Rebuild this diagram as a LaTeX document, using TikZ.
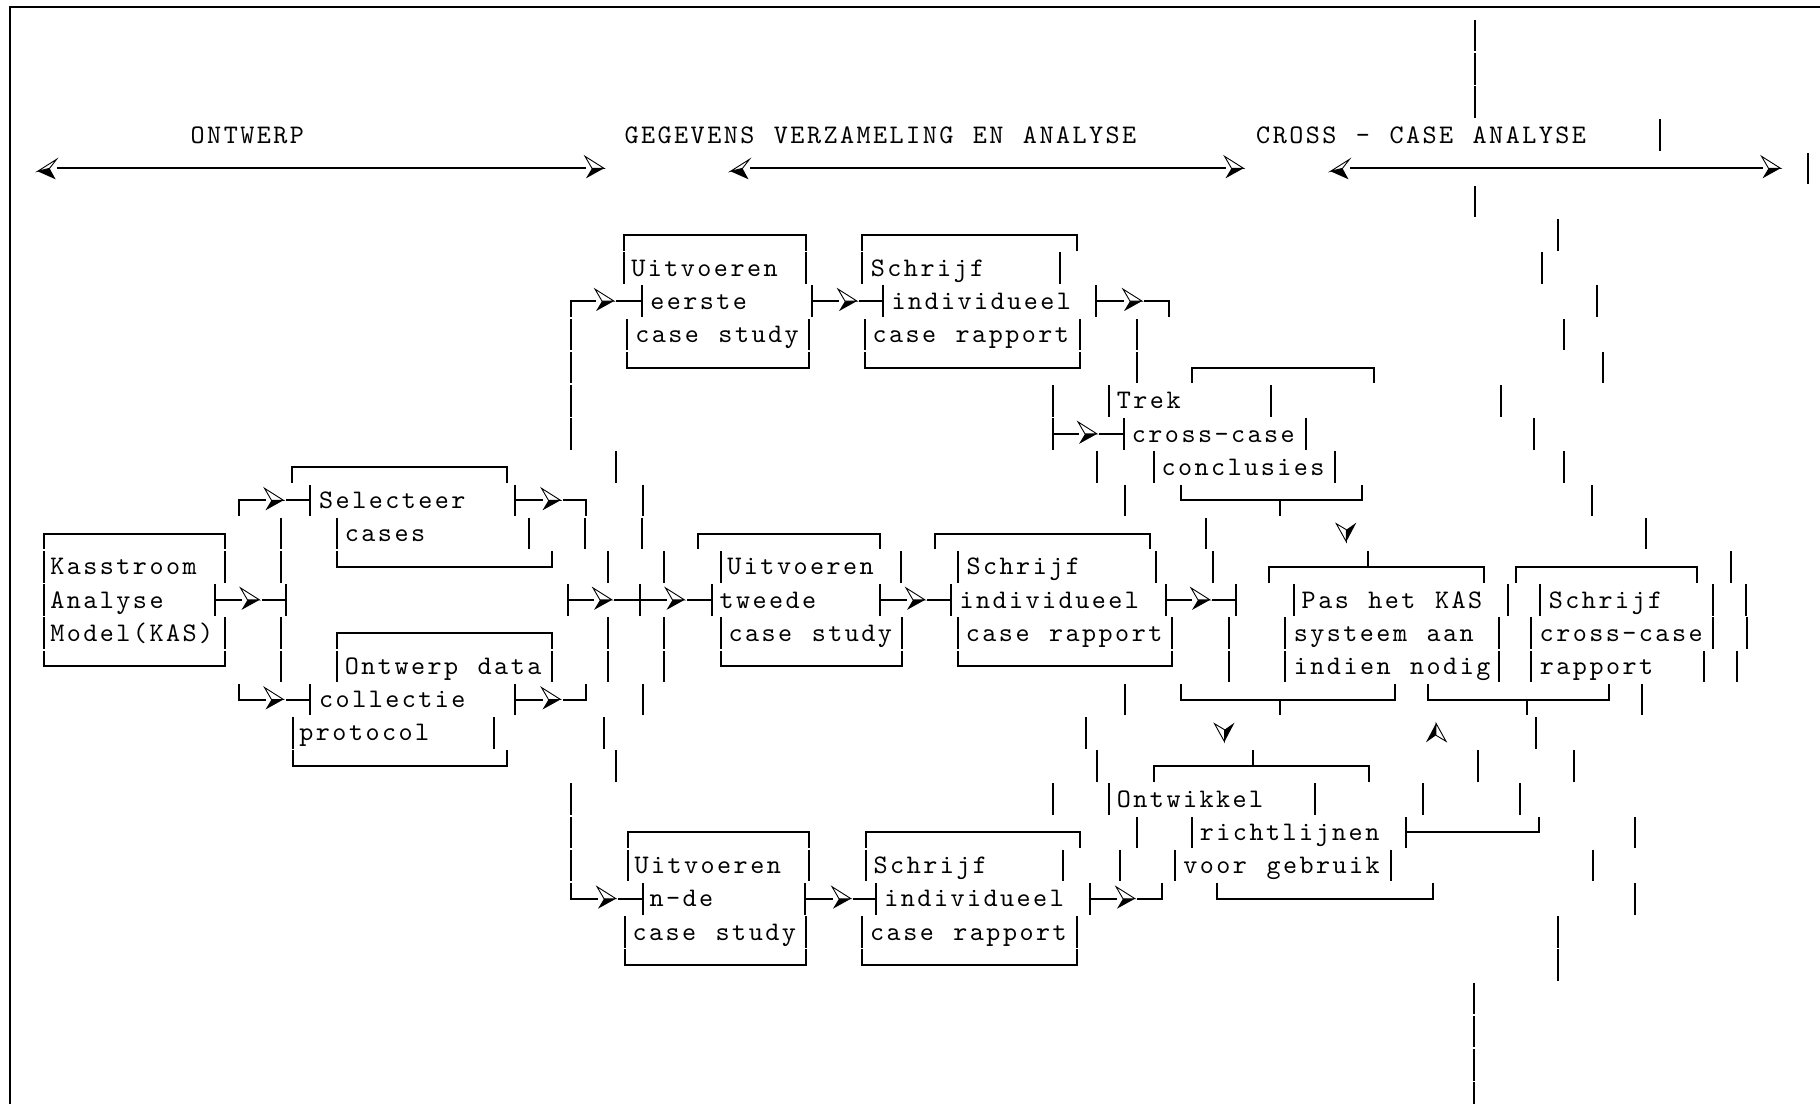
\documentclass[tikz,border=0pt]{standalone}
\usepackage{fontspec}
\newfontfamily\ascfont{lmmono10-regular.otf}[LetterSpace=9.2,WordSpace=1.18]
% one box-drawing cell: vertical bar, half bars, horizontal run
\newcommand\ascV[2]{\draw[ln] (#1,{ry(#2)-14.8}) -- (#1,{ry(#2)+14.8});}
\newcommand\ascD[2]{\draw[ln] (#1,{ry(#2)}) -- (#1,{ry(#2)+14.8});}
\newcommand\ascU[2]{\draw[ln] (#1,{ry(#2)-14.8}) -- (#1,{ry(#2)});}
\newcommand\ascH[3]{\draw[ln] (#1,{ry(#3)}) -- (#2,{ry(#3)});}
% three-d arrowheads: light upper facet, dark lower facet
\newcommand\ascR[2]{%
  \fill ({#1},{ry(#2)}) -- ({#1-12},{ry(#2)}) -- ({#1-18},{ry(#2)+10}) -- cycle;
  \draw[facet] ({#1},{ry(#2)}) -- ({#1-19},{ry(#2)-12}) -- ({#1-12},{ry(#2)}) -- cycle;}
\newcommand\ascL[2]{%
  \fill ({#1},{ry(#2)+3}) -- ({#1+12},{ry(#2)}) -- ({#1+18},{ry(#2)+11}) -- cycle;
  \draw[facet] ({#1},{ry(#2)+3}) -- ({#1+19},{ry(#2)-9}) -- ({#1+12},{ry(#2)}) -- cycle;}
\newcommand\ascDn[2]{%
  \fill (#1,#2) -- (#1,{#2-12}) -- ({#1+10},{#2-19}) -- cycle;
  \draw[facet] (#1,#2) -- ({#1-10},{#2-18}) -- (#1,{#2-12}) -- cycle;}
\newcommand\ascUp[2]{%
  \fill (#1,#2) -- (#1,{#2+12}) -- ({#1-10},{#2+19}) -- cycle;
  \draw[facet] (#1,#2) -- ({#1+10},{#2+18}) -- (#1,{#2+12}) -- cycle;}
% a run "from bar, arrowhead, on to bar": start x, arrow tip x, end x, row
\newcommand\ascArr[4]{\ascH{#1}{#2-19}{#4}\ascH{#2+3}{#3}{#4}\ascR{#2}{#4}}
% text on a row
\newcommand\ascT[4]{\node[txt] (#1) at ({#2-1.5},{ry(#3)+8.2}) {#4};}

\begin{document}
\begin{tikzpicture}[x=0.5pt,y=-0.5pt,
  declare function={ry(\k)=168.3+33.2*(\k);},
  ln/.style={line width=1pt,line cap=rect},
  facet/.style={line width=0.45pt,fill=white,line join=miter},
  txt/.style={anchor=base west,inner sep=0pt,font=\ascfont\fontsize{13.4pt}{16pt}\selectfont}]
\useasboundingbox (0,0) rectangle (1820,1103);

% frame
\draw[ln] (10,1110) -- (10,6.7) -- (1830,6.7);

% phase headings
\ascT{t1}{191.8}{-1}{ONTWERP}
\ascT{t2}{625.7}{-1}{GEGEVENS VERZAMELING EN ANALYSE}
\ascT{t3}{1257.3}{-1}{CROSS - CASE ANALYSE}
\ascH{57.5}{585}{0} \ascL{37.6}{0} \ascR{604}{0}
\ascH{750.5}{1224.5}{0} \ascL{730.5}{0} \ascR{1243.5}{0}
\ascH{1350.5}{1761.5}{0} \ascL{1330.5}{0} \ascR{1780.5}{0}
\ascV{1659.9}{-1} \ascV{1808}{0}
\foreach \k in {-4,-3,-2,1} {\ascV{1474.8}{\k}}

% row 2
\ascH{623.7}{805.6}{2} \ascD{623.7}{2} \ascD{805.6}{2}
\ascH{861.8}{1076.5}{2} \ascD{861.8}{2} \ascD{1076.5}{2}
\ascV{1557.9}{2}
% row 3
\ascV{623.7}{3} \ascT{t4}{632.4}{3}{Uitvoeren} \ascV{805.6}{3}
\ascV{861.8}{3} \ascT{t5}{872}{3}{Schrijf} \ascV{1059.9}{3}
\ascV{1542}{3}
% row 4
\ascD{571.4}{4} \ascArr{571.4}{614}{641.5}{4} \ascV{641.5}{4}
\ascT{t6}{651.4}{4}{eerste}
\ascV{811.5}{4} \ascArr{811.5}{857}{882.7}{4} \ascV{882.7}{4}
\ascT{t7}{892.6}{4}{individueel}
\ascV{1096.2}{4} \ascArr{1096.2}{1142}{1168.6}{4} \ascD{1168.6}{4}
\ascV{1596.6}{4}
% row 5
\ascV{626.9}{5} \ascT{t8}{636.4}{5}{case study} \ascV{808.8}{5}
\ascV{865}{5} \ascT{t9}{873.6}{5}{case rapport} \ascV{1079.6}{5}
\ascV{1136.6}{5} \ascV{571.4}{5} \ascV{1563.8}{5}
% row 6
\ascU{626.9}{6} \ascH{626.9}{808.8}{6} \ascU{808.8}{6}
\ascU{865}{6} \ascH{865}{1079.6}{6} \ascU{1079.6}{6}
\ascV{1136.6}{6} \ascV{571.4}{6}
\ascH{1192}{1374}{6} \ascD{1192}{6} \ascD{1374}{6}
\ascV{1602.5}{6}
% row 7
\ascV{571.4}{7} \ascV{1052.7}{7} \ascV{1108.9}{7} \ascT{t10}{1118}{7}{Trek}
\ascV{1271}{7} \ascV{1500.5}{7}
% row 8
\ascV{571.4}{8}
\ascV{1052.7}{8} \ascArr{1052.7}{1097}{1124}{8} \ascV{1124}{8}
\ascT{t11}{1133}{8}{cross-case} \ascV{1306}{8} \ascV{1534}{8}
% row 9
\ascV{615.6}{9} \ascV{1097.4}{9} \ascV{1153.6}{9}
\ascT{t12}{1162.7}{9}{conclusies} \ascV{1335}{9} \ascV{1563.8}{9}
\ascH{291.8}{507}{9} \ascD{291.8}{9} \ascD{507}{9}
% row 10
\ascD{239.2}{10} \ascArr{239.2}{283.5}{310.4}{10} \ascV{310.4}{10}
\ascT{t13}{320.3}{10}{Selecteer}
\ascV{515.2}{10} \ascArr{515.2}{560.5}{586.4}{10} \ascD{586.4}{10}
\ascV{642.7}{10} \ascV{1124.7}{10}
\ascU{1181.3}{10} \ascH{1181.3}{1362}{10} \ascU{1362}{10} \ascD{1280}{10}
\ascV{1591.5}{10}
% row 11
\ascH{43.5}{224.6}{11} \ascD{43.5}{11} \ascD{224.6}{11}
\ascV{280.7}{11} \ascV{337.3}{11} \ascT{t14}{346}{11}{cases} \ascV{529}{11}
\ascV{585.2}{11} \ascV{641.5}{11}
\ascH{698}{879.6}{11} \ascD{698}{11} \ascD{879.6}{11}
\ascH{935.3}{1149.6}{11} \ascD{935.3}{11} \ascD{1149.6}{11}
\ascV{1206}{11} \ascV{1646}{11}
\ascDn{1346.3}{541.7}
% row 12
\ascV{43.5}{12} \ascT{t15}{51.4}{12}{Kasstroom} \ascV{224.6}{12}
\ascV{280.7}{12}
\ascU{337.3}{12} \ascH{337.3}{551.6}{12} \ascU{551.6}{12}
\ascV{607.7}{12} \ascV{664}{12}
\ascV{720.6}{12} \ascT{t16}{728.5}{12}{Uitvoeren} \ascV{901.3}{12}
\ascV{957.9}{12} \ascT{t17}{967.7}{12}{Schrijf} \ascV{1156.3}{12}
\ascV{1212.9}{12}
\ascH{1269}{1483.5}{12} \ascD{1269}{12} \ascD{1483.5}{12} \ascU{1368}{12}
\ascH{1516}{1697.4}{12} \ascD{1516}{12} \ascD{1697.4}{12}
\ascV{1730.6}{12}
% row 13
\ascV{43.5}{13} \ascT{t18}{51.4}{13}{Analyse}
\ascV{214.7}{13} \ascArr{214.7}{259.5}{285.5}{13} \ascV{285.5}{13}
\ascV{568.2}{13} \ascArr{568.2}{612}{664.8}{13} \ascV{639.5}{13}
\ascArr{664.8}{684.5}{711.5}{13} \ascV{711.5}{13}
\ascT{t19}{720.6}{13}{tweede}
\ascV{880}{13} \ascArr{880}{925}{951}{13} \ascV{951}{13}
\ascT{t20}{960.6}{13}{individueel}
\ascV{1166.2}{13} \ascArr{1166.2}{1210}{1236}{13} \ascV{1236}{13}
\ascV{1293.7}{13} \ascT{t21}{1302.8}{13}{Pas het KAS} \ascV{1507.6}{13}
\ascV{1540}{13} \ascT{t22}{1550}{13}{Schrijf}
\ascV{1712.8}{13} \ascV{1745.7}{13}
% row 14
\ascV{43.5}{14} \ascT{t23}{51.4}{14}{Model(KAS)} \ascV{224.6}{14}
\ascV{280.7}{14}
\ascH{337.3}{551.6}{14} \ascD{337.3}{14} \ascD{551.6}{14}
\ascV{608}{14} \ascV{664}{14}
\ascV{720.6}{14} \ascT{t24}{729.7}{14}{case study} \ascV{901.7}{14}
\ascV{957.9}{14} \ascT{t25}{967}{14}{case rapport} \ascV{1172}{14}
\ascV{1228.5}{14}
\ascV{1285}{14} \ascT{t26}{1294.9}{14}{systeem aan} \ascV{1499.3}{14}
\ascV{1531.4}{14} \ascT{t27}{1540.8}{14}{cross-case}
\ascV{1713}{14} \ascV{1746.5}{14}
% row 15
\ascU{43.5}{15} \ascH{43.5}{224.6}{15} \ascU{224.6}{15}
\ascV{280.7}{15}
\ascV{337.3}{15} \ascT{t28}{346}{15}{Ontwerp data} \ascV{551.6}{15}
\ascV{608}{15} \ascV{664}{15}
\ascU{720.6}{15} \ascH{720.6}{901.7}{15} \ascU{901.7}{15}
\ascU{957.9}{15} \ascH{957.9}{1172}{15} \ascU{1172}{15}
\ascV{1228.5}{15}
\ascV{1285}{15} \ascT{t29}{1295}{15}{indien nodig} \ascV{1499.3}{15}
\ascV{1531.4}{15} \ascT{t30}{1541}{15}{rapport}
\ascV{1704}{15} \ascV{1737}{15}
% row 16
\ascU{239.2}{16} \ascArr{239.2}{283.5}{310.4}{16} \ascV{310.4}{16}
\ascT{t31}{320.3}{16}{collectie}
\ascV{515.2}{16} \ascArr{515.2}{560.5}{586.4}{16} \ascU{586.4}{16}
\ascV{642.7}{16} \ascV{1124.7}{16}
\ascU{1181.3}{16} \ascH{1181.3}{1395}{16} \ascU{1395}{16} \ascD{1280}{16}
\ascU{1428}{16} \ascH{1428}{1609}{16} \ascU{1609}{16} \ascD{1526.6}{16}
\ascV{1642}{16}
% row 17
\ascV{292.6}{17} \ascT{t32}{300.5}{17}{protocol} \ascV{493.5}{17}
\ascV{603.8}{17} \ascV{1085.6}{17}
\ascDn{1224.5}{741.7} \ascUp{1436}{723.3}
\ascV{1536}{17}
% row 18
\ascU{292.6}{18} \ascH{292.6}{507}{18} \ascU{507}{18}
\ascV{615.6}{18} \ascV{1097.4}{18}
\ascH{1153.6}{1369}{18} \ascD{1153.6}{18} \ascD{1369}{18} \ascU{1253.4}{18}
\ascV{1477.6}{18} \ascV{1573.7}{18}
% row 19
\ascV{571.4}{19} \ascV{1052.7}{19}
\ascV{1108.9}{19} \ascT{t33}{1118}{19}{Ontwikkel} \ascV{1314.7}{19}
\ascV{1423.4}{19} \ascV{1519.5}{19}
% row 20
\ascV{571.4}{20}
\ascH{627.7}{808.8}{20} \ascD{627.7}{20} \ascD{808.8}{20}
\ascH{865.7}{1079.6}{20} \ascD{865.7}{20} \ascD{1079.6}{20}
\ascV{1136.6}{20}
\ascV{1192}{20} \ascT{t34}{1201}{20}{richtlijnen}
\ascV{1406.4}{20} \ascH{1406.4}{1538.9}{20} \ascU{1538.9}{20}
\ascV{1635}{20}
% row 21
\ascV{571.4}{21}
\ascV{627.7}{21} \ascT{t35}{635.6}{21}{Uitvoeren} \ascV{808.8}{21}
\ascV{865.7}{21} \ascT{t36}{874.8}{21}{Schrijf} \ascV{1063.4}{21}
\ascV{1120}{21}
\ascV{1175.3}{21} \ascT{t37}{1184.4}{21}{voor gebruik} \ascV{1391}{21}
\ascV{1592.6}{21}
% row 22
\ascU{571.4}{22} \ascArr{571.4}{616}{642.7}{22} \ascV{642.7}{22}
\ascT{t38}{650.6}{22}{n-de}
\ascV{804.8}{22} \ascArr{804.8}{851}{875.6}{22} \ascV{875.6}{22}
\ascT{t39}{885.5}{22}{individueel}
\ascV{1090.3}{22} \ascArr{1090.3}{1135}{1161.5}{22} \ascU{1161.5}{22}
\ascU{1216.8}{22} \ascH{1216.8}{1433.3}{22} \ascU{1433.3}{22}
\ascV{1635}{22}
% row 23
\ascV{624.5}{23} \ascT{t40}{633.6}{23}{case study} \ascV{805.6}{23}
\ascV{862.2}{23} \ascT{t41}{871.3}{23}{case rapport} \ascV{1076.5}{23}
\ascV{1557.8}{23}
% row 24
\ascU{624.5}{24} \ascH{624.5}{805.6}{24} \ascU{805.6}{24}
\ascU{862.2}{24} \ascH{862.2}{1076.5}{24} \ascU{1076.5}{24}
\ascV{1557.8}{24}
% rows 25-28
\foreach \k in {25,26,27,28} {\ascV{1474}{\k}}
\end{tikzpicture}
\end{document}
